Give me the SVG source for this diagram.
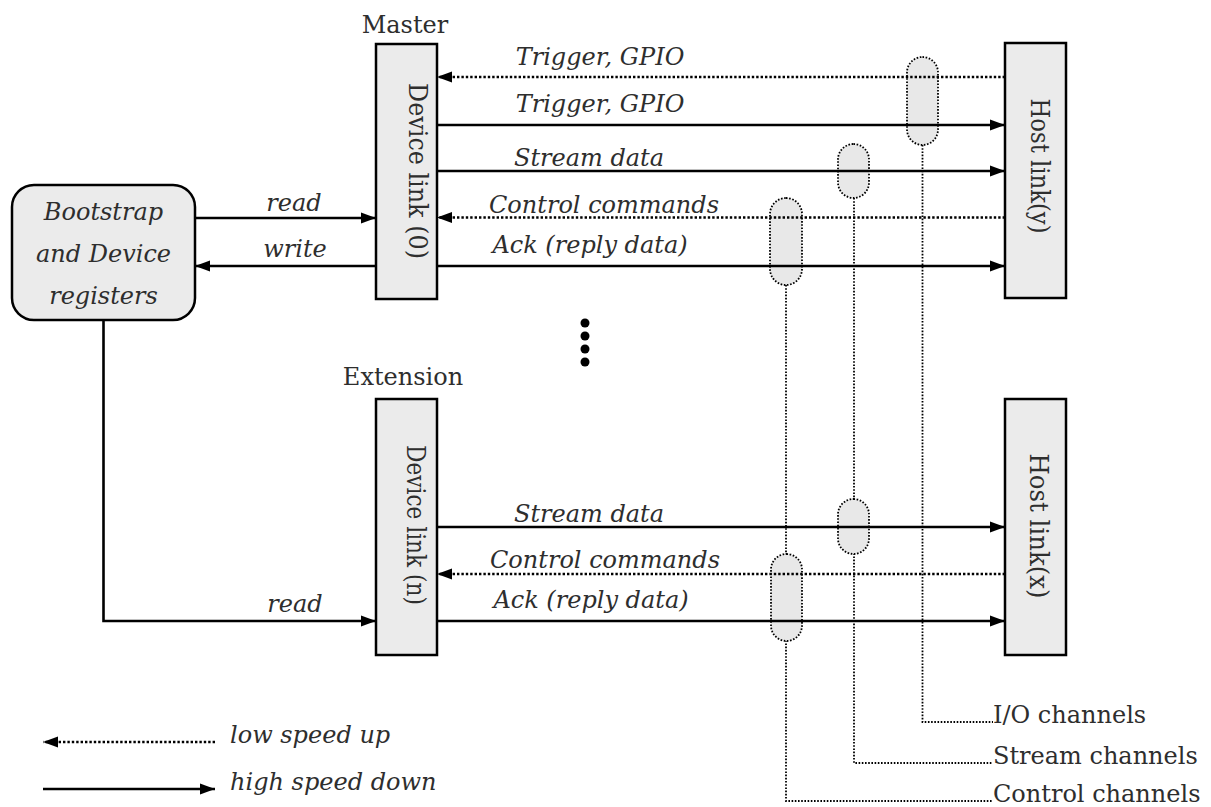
<svg xmlns="http://www.w3.org/2000/svg" width="1211" height="807" viewBox="0 0 1211 807">
<defs>
<marker id="ah" markerUnits="userSpaceOnUse" markerWidth="16" markerHeight="12" refX="15" refY="6" orient="auto">
<path d="M0,0.5 L15,6 L0,11.5 Z" fill="#000"/>
</marker>
<style>
.box{fill:#ebebeb;stroke:#000;stroke-width:2.5}
.pill{fill:#e8e8e8;stroke:#000;stroke-width:1.8;stroke-dasharray:1.6 1.6}
.solid{stroke:#000;stroke-width:2.6;fill:none}
.dot{stroke:#000;stroke-width:2.6;fill:none;stroke-dasharray:2.4 2}
.vdot{stroke:#000;stroke-width:1.8;fill:none;stroke-dasharray:1.6 1.6}
.t{font-family:"DejaVu Serif","Liberation Serif",serif;font-size:24px;fill:#2e2e2e}
.r{font-size:26px}
.i{font-style:italic}
.m{text-anchor:middle}
</style>
</defs>
<rect width="1211" height="807" fill="#fff"/>

<g id="connectors">
<path class="vdot" d="M922.5,145 V722 H993"/>
<path class="vdot" d="M854,198 V763 H993"/>
<path class="vdot" d="M786,285 V801 H993"/>
</g>

<g id="pills">
<rect class="pill" x="907" y="57" width="31" height="88" rx="15.5"/>
<rect class="pill" x="838" y="144" width="31" height="54" rx="15.5"/>
<rect class="pill" x="770" y="198" width="32" height="87" rx="16"/>
<rect class="pill" x="838" y="499" width="31" height="55" rx="15.5"/>
<rect class="pill" x="771" y="554" width="31" height="87" rx="15.5"/>
</g>

<g id="bootstrap">
<rect class="box" x="12" y="185" width="183" height="135" rx="22"/>
<text class="t i m" x="103.5" y="220">Bootstrap</text>
<text class="t i m" x="103.5" y="262">and Device</text>
<text class="t i m" x="103.5" y="304">registers</text>
</g>

<g id="device0">
<text class="t m" x="405" y="33">Master</text>
<rect class="box" x="376" y="44" width="61" height="255"/>
<text class="t r m" transform="translate(409,171) rotate(90)" textLength="176" lengthAdjust="spacingAndGlyphs">Device link (0)</text>
</g>

<g id="devicen">
<text class="t m" x="403" y="385">Extension</text>
<rect class="box" x="376" y="399" width="61" height="256"/>
<text class="t r m" transform="translate(407,525) rotate(90)" textLength="160" lengthAdjust="spacingAndGlyphs">Device link (n)</text>
</g>

<g id="hosty">
<rect class="box" x="1005" y="43" width="61" height="255"/>
<text class="t r m" transform="translate(1031,166) rotate(90)" textLength="135" lengthAdjust="spacingAndGlyphs">Host link(y)</text>
</g>

<g id="hostx">
<rect class="box" x="1005" y="399" width="61" height="256"/>
<text class="t r m" transform="translate(1030,526) rotate(90)" textLength="145" lengthAdjust="spacingAndGlyphs">Host link(x)</text>
</g>

<g id="arrows">
<line class="solid" x1="195" y1="218" x2="376" y2="218" marker-end="url(#ah)"/>
<line class="solid" x1="376" y1="266" x2="195" y2="266" marker-end="url(#ah)"/>
<line class="dot" x1="1005" y1="77" x2="437" y2="77" marker-end="url(#ah)"/>
<line class="solid" x1="437" y1="125" x2="1005" y2="125" marker-end="url(#ah)"/>
<line class="solid" x1="437" y1="171" x2="1005" y2="171" marker-end="url(#ah)"/>
<line class="dot" x1="1005" y1="217.5" x2="437" y2="217.5" marker-end="url(#ah)"/>
<line class="solid" x1="437" y1="266" x2="1005" y2="266" marker-end="url(#ah)"/>
<line class="solid" x1="437" y1="527" x2="1005" y2="527" marker-end="url(#ah)"/>
<line class="dot" x1="1005" y1="574" x2="437" y2="574" marker-end="url(#ah)"/>
<line class="solid" x1="437" y1="621" x2="1005" y2="621" marker-end="url(#ah)"/>
<path class="solid" d="M103.5,320 V621 H376" marker-end="url(#ah)"/>
</g>

<g id="labels">
<text class="t i m" x="600" y="65">Trigger, GPIO</text>
<text class="t i m" x="600" y="112">Trigger, GPIO</text>
<text class="t i m" x="589" y="166">Stream data</text>
<text class="t i m" x="604" y="213">Control commands</text>
<text class="t i m" x="590" y="253">Ack (reply data)</text>
<text class="t i m" x="294" y="211">read</text>
<text class="t i m" x="295" y="257">write</text>
<text class="t i m" x="589" y="522">Stream data</text>
<text class="t i m" x="605" y="568">Control commands</text>
<text class="t i m" x="591" y="608">Ack (reply data)</text>
<text class="t i m" x="295" y="612">read</text>
</g>

<g id="ellipsis">
<circle cx="585" cy="323" r="4.5" fill="#000"/>
<circle cx="585" cy="336" r="4.5" fill="#000"/>
<circle cx="585" cy="349" r="4.5" fill="#000"/>
<circle cx="585" cy="362" r="4.5" fill="#000"/>
</g>

<g id="channels">
<text class="t" x="993" y="723">I/O channels</text>
<text class="t" x="993" y="764">Stream channels</text>
<text class="t" x="993" y="802">Control channels</text>
</g>

<g id="legend">
<line class="dot" x1="215" y1="742" x2="43" y2="742" marker-end="url(#ah)"/>
<line class="solid" x1="43" y1="789" x2="215" y2="789" marker-end="url(#ah)"/>
<text class="t i" x="230" y="743">low speed up</text>
<text class="t i" x="230" y="790">high speed down</text>
</g>
</svg>
